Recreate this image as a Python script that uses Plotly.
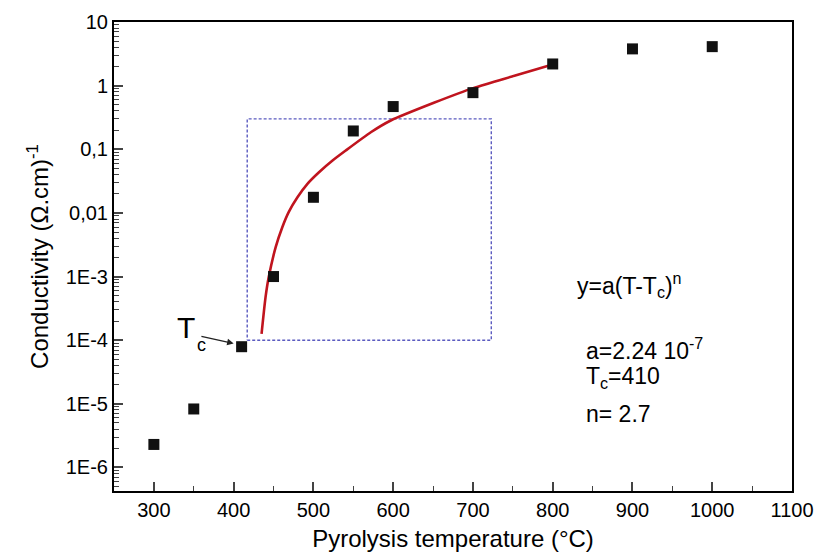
import numpy as np
import plotly.graph_objects as go

# Measured data
temps = [300, 350, 410, 450, 500, 550, 600, 700, 800, 900, 1000]
cond = [2.3e-6, 8.3e-6, 7.9e-5, 1.0e-3, 0.0176, 0.194, 0.469, 0.776, 2.19, 3.78, 4.1]

# Fit curve
fit_t = [435, 440, 444, 452.7, 461, 469, 480, 492.5, 507, 524, 540.5, 572, 597, 651, 702, 752, 802]
fit_y = [1.26e-4, 4.75e-4, 9.8e-4, 2.9e-3, 5.97e-3, 0.0103, 0.0176, 0.0286, 0.0435,
         0.0665, 0.0955, 0.185, 0.283, 0.537, 0.93, 1.43, 2.19]

# Dashed box
box_t = [417, 723, 723, 417, 417]
box_y = [1e-4, 1e-4, 0.3, 0.3, 1e-4]

x_ticks = [300, 400, 500, 600, 700, 800, 900, 1000, 1100]
y_ticks = [1e-6, 1e-5, 1e-4, 1e-3, 1e-2, 1e-1, 1, 10]
y_labels = ["1E-6", "1E-5", "1E-4", "1E-3", "0,01", "0,1", "1", "10"]
y_minor = [k * 10.0 ** e for e in range(-7, 1) for k in range(2, 10)]
x_minor = [350, 450, 550, 650, 750, 850, 950, 1050]

FONT = "Liberation Sans"

fig = go.Figure()
fig.add_trace(go.Scatter(x=box_t, y=box_y, mode="lines",
                         line=dict(color="#5b5bc0", width=1.4, dash="3px,2px"),
                         hoverinfo="skip", showlegend=False))
fig.add_trace(go.Scatter(x=fit_t, y=fit_y, mode="lines",
                         line=dict(color="#c0141e", width=2.6, shape="spline", smoothing=0.6),
                         showlegend=False))
fig.add_trace(go.Scatter(x=temps, y=cond, mode="markers",
                         marker=dict(symbol="square", size=11, color="#111111"),
                         showlegend=False))

annots = [
    dict(x=339.8, y=-3.794, text="T", size=30, xanchor="center"),
    dict(x=359.8, y=-4.082, text="c", size=18, xanchor="center"),
    dict(x=828, y=-3.14, text="y=a(T-T<sub>c</sub>)<sup>n</sup>", size=23, xanchor="left"),
    dict(x=839, y=-4.144, text="a=2.24 10<sup>-7</sup>", size=23, xanchor="left"),
    dict(x=839, y=-4.584, text="T<sub>c</sub>=410", size=23, xanchor="left"),
    dict(x=839, y=-5.165, text="n= 2.7", size=23, xanchor="left"),
]
for a in annots:
    fig.add_annotation(xref="x", yref="y", showarrow=False, yanchor="middle",
                       x=a["x"], y=a["y"], text=a["text"], xanchor=a["xanchor"],
                       font=dict(family=FONT, color="black", size=a["size"]))

# arrow pointing to Tc
fig.add_annotation(xref="x", yref="y", x=400, y=float(np.log10(8.9e-5)),
                   axref="x", ayref="y", ax=357.7, ay=float(np.log10(1.16e-4)),
                   showarrow=True, arrowhead=2, arrowsize=1, arrowwidth=1.3,
                   arrowcolor="#222222", text="")

fig.update_layout(
    width=815, height=558,
    margin=dict(l=114, r=23, t=22, b=67),
    paper_bgcolor="white", plot_bgcolor="white",
    font=dict(family=FONT, color="black", size=20),
    xaxis=dict(range=[250, 1100], tickvals=x_ticks, ticks="inside", ticklen=9, tickwidth=1.5,
               showline=True, linecolor="black", linewidth=2, mirror=True, showgrid=False,
               zeroline=False, tickfont=dict(size=20), automargin=False,
               minor=dict(tickvals=x_minor, ticks="inside", ticklen=5, tickwidth=1.3),
               title=dict(text="Pyrolysis temperature (°C)", font=dict(size=24), standoff=10)),
    yaxis=dict(type="log", range=[-6.37, 1], tickvals=y_ticks, ticktext=y_labels,
               ticks="inside", ticklen=9, tickwidth=1.5,
               showline=True, linecolor="black", linewidth=2, mirror=True, showgrid=False,
               zeroline=False, tickfont=dict(size=20), automargin=False,
               minor=dict(tickvals=y_minor, ticks="inside", ticklen=5, tickwidth=1.2),
               title=dict(text="Conductivity (Ω.cm)<sup>-1</sup>", font=dict(size=24), standoff=10)),
)

fig.write_html("out.html", config={"displayModeBar": False},
               post_script="document.body.style.margin='0';document.body.style.overflow='hidden';")
